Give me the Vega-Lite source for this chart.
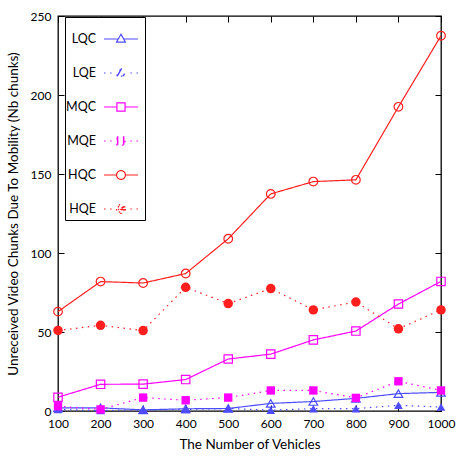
{
  "$schema": "https://vega.github.io/schema/vega-lite/v6.json",
  "width": 383,
  "height": 395,
  "autosize": {"type": "none"},
  "padding": {"left": 58, "top": 16, "right": 15, "bottom": 51},
  "background": "white",
  "config": {
    "font": "Lato",
    "view": {"stroke": "black", "strokeWidth": 1.3},
    "axis": {"grid": false, "domain": false, "labelFont": "Lato", "titleFont": "Lato", "labelColor": "black", "titleColor": "black", "tickColor": "black", "labelFontSize": 12, "titleFontSize": 13.5, "titleFontWeight": "normal", "tickSize": 6, "offset": -6, "tickWidth": 1, "labelFlush": false, "labelOverlap": false, "format": "d"}
  },
  "data": {"values": [
    {"n": 100, "series": "LQC", "value": 2}, {"n": 200, "series": "LQC", "value": 2}, {"n": 300, "series": "LQC", "value": 0.7}, {"n": 400, "series": "LQC", "value": 1.4}, {"n": 500, "series": "LQC", "value": 1.6}, {"n": 600, "series": "LQC", "value": 4.8}, {"n": 700, "series": "LQC", "value": 6}, {"n": 800, "series": "LQC", "value": 8}, {"n": 900, "series": "LQC", "value": 11}, {"n": 1000, "series": "LQC", "value": 11.8},
    {"n": 100, "series": "LQE", "value": 1}, {"n": 200, "series": "LQE", "value": 0.3}, {"n": 300, "series": "LQE", "value": 0.8}, {"n": 400, "series": "LQE", "value": 1}, {"n": 500, "series": "LQE", "value": 1.6}, {"n": 600, "series": "LQE", "value": 0.5}, {"n": 700, "series": "LQE", "value": 1.5}, {"n": 800, "series": "LQE", "value": 1.5}, {"n": 900, "series": "LQE", "value": 3.6}, {"n": 1000, "series": "LQE", "value": 2.5},
    {"n": 100, "series": "MQC", "value": 8.7}, {"n": 200, "series": "MQC", "value": 16.9}, {"n": 300, "series": "MQC", "value": 17}, {"n": 400, "series": "MQC", "value": 19.9}, {"n": 500, "series": "MQC", "value": 32.9}, {"n": 600, "series": "MQC", "value": 36}, {"n": 700, "series": "MQC", "value": 45}, {"n": 800, "series": "MQC", "value": 50.6}, {"n": 900, "series": "MQC", "value": 67.7}, {"n": 1000, "series": "MQC", "value": 82},
    {"n": 100, "series": "MQE", "value": 3}, {"n": 200, "series": "MQE", "value": 1}, {"n": 300, "series": "MQE", "value": 8.5}, {"n": 400, "series": "MQE", "value": 6.8}, {"n": 500, "series": "MQE", "value": 8.5}, {"n": 600, "series": "MQE", "value": 13}, {"n": 700, "series": "MQE", "value": 13}, {"n": 800, "series": "MQE", "value": 8.3}, {"n": 900, "series": "MQE", "value": 18.8}, {"n": 1000, "series": "MQE", "value": 13},
    {"n": 100, "series": "HQC", "value": 62.9}, {"n": 200, "series": "HQC", "value": 81.9}, {"n": 300, "series": "HQC", "value": 81}, {"n": 400, "series": "HQC", "value": 87}, {"n": 500, "series": "HQC", "value": 109}, {"n": 600, "series": "HQC", "value": 137.4}, {"n": 700, "series": "HQC", "value": 145.2}, {"n": 800, "series": "HQC", "value": 146.3}, {"n": 900, "series": "HQC", "value": 192.5}, {"n": 1000, "series": "HQC", "value": 237.5},
    {"n": 100, "series": "HQE", "value": 51}, {"n": 200, "series": "HQE", "value": 54.2}, {"n": 300, "series": "HQE", "value": 50.9}, {"n": 400, "series": "HQE", "value": 78.3}, {"n": 500, "series": "HQE", "value": 68}, {"n": 600, "series": "HQE", "value": 77.5}, {"n": 700, "series": "HQE", "value": 64}, {"n": 800, "series": "HQE", "value": 69}, {"n": 900, "series": "HQE", "value": 52}, {"n": 1000, "series": "HQE", "value": 64}
  ]},
  "layer": [
    {
      "mark": {"type": "line", "strokeWidth": 1.2},
      "encoding": {
        "x": {"field": "n", "type": "quantitative", "scale": {"domain": [100, 1000], "nice": false}, "axis": {"values": [100, 200, 300, 400, 500, 600, 700, 800, 900, 1000], "title": "The Number of Vehicles", "labelPadding": 7, "titlePadding": 8, "orient": "bottom"}},
        "y": {"field": "value", "type": "quantitative", "scale": {"domain": [0, 250], "nice": false}, "axis": {"values": [0, 50, 100, 150, 200, 250], "title": "Unreceived Video Chunks Due To Mobility (Nb chunks)", "labelPadding": 7, "titlePadding": 10, "orient": "left"}},
        "color": {"field": "series", "type": "nominal", "scale": {"domain": ["LQC", "LQE", "MQC", "MQE", "HQC", "HQE"], "range": ["#4d4dff", "#4d4dff", "#ff00ff", "#ff00ff", "#ff1f1f", "#ff1f1f"]},
          "legend": {
            "title": null, "orient": "none", "legendX": 7, "legendY": 1,
            "padding": 4, "fillColor": "white", "strokeColor": "black", "cornerRadius": 0,
            "symbolSize": 1156, "rowPadding": 9, "labelFontSize": 12.5, "labelFont": "Lato", "labelColor": "black", "symbolStrokeWidth": 1.2, "symbolOpacity": 1, "symbolFillColor": "transparent",
            "encode": {
              "symbols": {"update": {"x": {"value": 52}, "size": {"value": 1156}, "fill": {"value": "transparent"}, "strokeDash": {"value": [1, 0]}}},
              "labels": {"update": {"x": {"value": 27}, "align": {"value": "right"}}}
            }
          }},
        "strokeDash": {"field": "series", "type": "nominal", "scale": {"domain": ["LQC", "LQE", "MQC", "MQE", "HQC", "HQE"], "range": [[1, 0], [1.5, 4.5], [1, 0], [1.5, 4.5], [1, 0], [1.5, 4.5]]}, "legend": null}
      }
    },
    {
      "transform": [{"filter": "datum.series === 'LQC'"}],
      "mark": {"type": "point", "shape": "triangle-up", "filled": false, "color": "#4d4dff", "size": 75, "strokeWidth": 1.2, "opacity": 1},
      "encoding": {
        "x": {"field": "n", "type": "quantitative", "axis": {"values": [100, 200, 300, 400, 500, 600, 700, 800, 900, 1000], "orient": "top", "labels": false, "title": null}},
        "y": {"field": "value", "type": "quantitative", "axis": {"values": [0, 50, 100, 150, 200, 250], "orient": "right", "labels": false, "title": null}}
      }
    },
    {
      "transform": [{"filter": "datum.series === 'LQE'"}],
      "mark": {"type": "point", "shape": "triangle-up", "filled": true, "color": "#4d4dff", "size": 75, "opacity": 1},
      "encoding": {
        "x": {"field": "n", "type": "quantitative", "axis": null},
        "y": {"field": "value", "type": "quantitative", "axis": null}
      }
    },
    {
      "transform": [{"filter": "datum.series === 'MQC'"}],
      "mark": {"type": "point", "shape": "square", "filled": false, "color": "#ff00ff", "size": 70, "strokeWidth": 1.2, "opacity": 1},
      "encoding": {
        "x": {"field": "n", "type": "quantitative", "axis": null},
        "y": {"field": "value", "type": "quantitative", "axis": null}
      }
    },
    {
      "transform": [{"filter": "datum.series === 'MQE'"}],
      "mark": {"type": "point", "shape": "square", "filled": true, "color": "#ff00ff", "size": 70, "opacity": 1},
      "encoding": {
        "x": {"field": "n", "type": "quantitative", "axis": null},
        "y": {"field": "value", "type": "quantitative", "axis": null}
      }
    },
    {
      "transform": [{"filter": "datum.series === 'HQC'"}],
      "mark": {"type": "point", "shape": "circle", "filled": false, "color": "#ff1f1f", "size": 75, "strokeWidth": 1.2, "opacity": 1},
      "encoding": {
        "x": {"field": "n", "type": "quantitative", "axis": null},
        "y": {"field": "value", "type": "quantitative", "axis": null}
      }
    },
    {
      "transform": [{"filter": "datum.series === 'HQE'"}],
      "mark": {"type": "point", "shape": "circle", "filled": true, "color": "#ff1f1f", "size": 90, "opacity": 1},
      "encoding": {
        "x": {"field": "n", "type": "quantitative", "axis": null},
        "y": {"field": "value", "type": "quantitative", "axis": null}
      }
    },
    {
      "mark": {"type": "point", "filled": false, "strokeWidth": 1.2, "opacity": 0},
      "encoding": {
        "x": {"field": "n", "type": "quantitative", "axis": null},
        "y": {"field": "value", "type": "quantitative", "axis": null},
        "shape": {"field": "series", "type": "nominal", "scale": {"domain": ["LQC", "LQE", "MQC", "MQE", "HQC", "HQE"], "range": [
            "M-1,0H-0.16M0.16,0H1M0,-0.28L0.26,0.18L-0.26,0.18Z",
            "M-1,0h0.09M-0.64,0h0.09M0.55,0h0.09M0.91,0h0.09M0,-0.28L0.26,0.18L-0.26,0.18ZM-0.249,0.16H0.249M-0.215,0.1H0.215M-0.181,0.04H0.181M-0.147,-0.02H0.147M-0.113,-0.08H0.113M-0.079,-0.14H0.079M-0.045,-0.2H0.045",
            "M-1,0H-0.24M0.24,0H1M-0.24,-0.24H0.24V0.24H-0.24Z",
            "M-1,0h0.09M-0.64,0h0.09M0.55,0h0.09M0.91,0h0.09M-0.24,-0.24H0.24V0.24H-0.24ZM-0.24,-0.18H0.24M-0.24,-0.12H0.24M-0.24,-0.06H0.24M-0.24,0H0.24M-0.24,0.06H0.24M-0.24,0.12H0.24M-0.24,0.18H0.24",
            "M-1,0H-0.26M0.26,0H1M0.26,0A0.26,0.26,0,1,1,-0.26,0A0.26,0.26,0,1,1,0.26,0Z",
            "M-1,0h0.09M-0.64,0h0.09M0.55,0h0.09M0.91,0h0.09M0.26,0A0.26,0.26,0,1,1,-0.26,0A0.26,0.26,0,1,1,0.26,0ZM0.2,0A0.2,0.2,0,1,1,-0.2,0A0.2,0.2,0,1,1,0.2,0ZM0.14,0A0.14,0.14,0,1,1,-0.14,0A0.14,0.14,0,1,1,0.14,0ZM0.08,0A0.08,0.08,0,1,1,-0.08,0A0.08,0.08,0,1,1,0.08,0ZM0.03,0A0.03,0.03,0,1,1,-0.03,0A0.03,0.03,0,1,1,0.03,0Z"
          ]}, "legend": null}
      }
    }
  ],
  "resolve": {"axis": {"x": "independent", "y": "independent"}}
}
